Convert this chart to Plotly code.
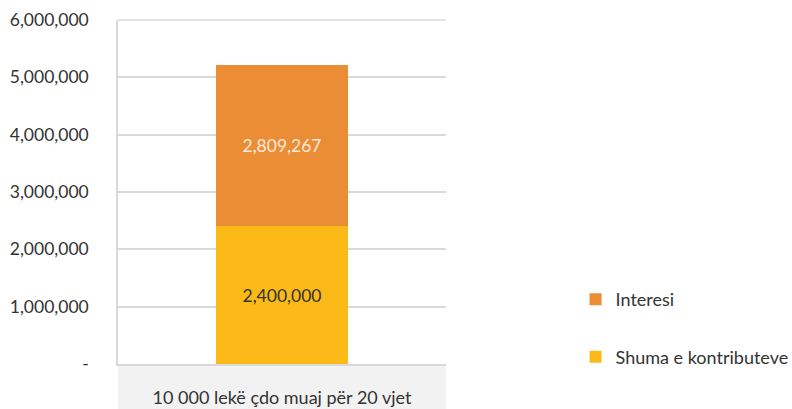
import plotly.graph_objects as go

categories = ["10 000 lekë çdo muaj për 20 vjet"]
contributions = [2400000]
interest = [2809267]
tick_values = [0, 1000000, 2000000, 3000000, 4000000, 5000000, 6000000]
tick_labels = ["-", "1,000,000", "2,000,000", "3,000,000", "4,000,000", "5,000,000", "6,000,000"]

FONT = "Lato, 'Open Sans', sans-serif"
TXT = "#333333"

fig = go.Figure()
fig.add_trace(go.Bar(
    x=categories, y=contributions, name="Shuma e kontributeve",
    marker=dict(color="#FBBA18", line=dict(width=0)),
    text=[f"{v:,}" for v in contributions], textposition="inside",
    insidetextanchor="middle", textfont=dict(color=TXT, size=17.5, family=FONT),
    legendgroup="b", legendrank=2,
))
fig.add_trace(go.Bar(
    x=categories, y=interest, name="Interesi",
    marker=dict(color="#EB8D35", line=dict(width=0)),
    text=[f"{v:,}" for v in interest], textposition="inside",
    insidetextanchor="middle", textfont=dict(color="#F7E9DC", size=17.5, family=FONT),
    legendgroup="a", legendrank=1,
))

fig.update_layout(
    barmode="stack",
    bargap=0.595,
    width=792, height=409,
    margin=dict(l=118, r=346, t=20, b=45, autoexpand=False),
    paper_bgcolor="white", plot_bgcolor="white",
    font=dict(family=FONT, color=TXT, size=17.5),
    legend=dict(
        x=1.395, xanchor="left", y=0.241, yanchor="top",
        traceorder="grouped", tracegroupgap=31,
        font=dict(size=18, color=TXT, family=FONT),
        itemwidth=30,
    ),
    shapes=[
        dict(type="rect", xref="x domain", yref="paper", x0=0, x1=1, y0=-0.135, y1=-0.005,
             fillcolor="#F2F2F2", line=dict(width=0), layer="below"),
        dict(type="line", xref="x domain", yref="paper", x0=0, x1=1, y0=1, y1=1,
             line=dict(color="#D9D9D9", width=1.5)),
    ],
)
fig.update_yaxes(
    range=[0, 6000000], tickvals=tick_values, ticktext=tick_labels,
    showgrid=True, gridcolor="#D9D9D9", gridwidth=1.5,
    showline=True, linecolor="#D9D9D9", linewidth=1.5,
    zeroline=False, ticks="", ticklabelstandoff=24, automargin=False,
    tickfont=dict(size=17.5, color=TXT, family=FONT),
)
fig.update_xaxes(
    showline=True, linecolor="#D9D9D9", linewidth=1.5,
    ticks="", ticklabelstandoff=17, automargin=False,
    tickfont=dict(size=18, color=TXT, family=FONT),
)

fig.write_html(
    "out.html",
    config={"displayModeBar": False},
    post_script="document.body.style.margin='0';document.body.style.overflow='hidden';",
)
